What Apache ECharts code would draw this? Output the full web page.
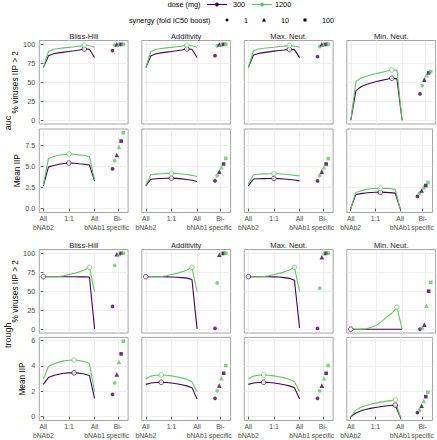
<!DOCTYPE html>
<html><head><meta charset="utf-8">
<script src="https://cdn.jsdelivr.net/npm/echarts@6/dist/echarts.min.js"></script>
<style>html,body{margin:0;padding:0;background:#fff}#c{width:437px;height:440px}</style>
</head><body><div id="c"></div>
<script>
// ---------- categories / axes ----------
const methods = ['Bliss-Hill', 'Additivity', 'Max. Neut.', 'Min. Neut.'];
const metrics = ['auc', 'trough'];
const doses = ['300', '1200'];
const synergyLevels = ['1', '10', '100'];
const ratioX = [0, 0.1, 0.2, 0.3, 0.4, 0.5, 0.6, 0.7, 0.8, 0.9, 1];
const xBreaks = [0, 0.5, 1, 1.455];
const xTickLabels = ['All\nbNAb2', '1:1', 'All\nbNAb1', 'Bi-\nspecific'];
const bispecificX = [1.35, 1.392, 1.434, 1.476, 1.518, 1.56]; // dodged: (syn1: 300,1200), (syn10: 300,1200), (syn100: 300,1200)
const pctTicks = [0, 25, 50, 75, 100];
const aucMeanTicks = [0, 2.5, 5, 7.5];
const troughMeanTicks = [0, 2, 4, 6];

// ---------- AUC: % viruses IIP > 2 (per method) ----------
const aucPct300 = [
  [69.3, 85, 87.5, 88.7, 89.7, 90.6, 91.5, 92.5, 93.8, 93.4, 82.5],
  [69.3, 85, 87.5, 88.7, 89.7, 90.6, 91.5, 92.5, 93.8, 93.4, 82.5],
  [69.3, 86, 88, 89, 90, 91, 91.8, 92.5, 93.3, 93, 82.5],
  [0, 39, 44, 47, 49, 51, 52.5, 54, 55.3, 54.5, 0]
];
const aucPct1200 = [
  [69.3, 90.5, 93.5, 94.5, 95.3, 96, 96.8, 97.6, 98.8, 98, 96],
  [69.3, 90.5, 93.5, 94.5, 95.3, 96, 96.8, 97.6, 98.8, 98, 96],
  [69.3, 91.5, 93.8, 94.8, 95.5, 96.2, 97, 97.6, 98.3, 97.8, 96],
  [0, 51, 55.5, 58, 60, 61.5, 63, 64.5, 66.2, 66, 0]
];
const aucPctBispecific = [
  [91.7, 99, 100, 100, 100, 100],
  [85, 98, 100, 100, 100, 100],
  [83.8, 97, 100, 100, 100, 100],
  [34.6, 45.6, 53.5, 59.2, 62.3, 64]
];
const aucPctOpt300 = [8, 8, 8, 8];
const aucPctOpt1200 = [8, 8, 8, 8];

// ---------- AUC: Mean IIP ----------
const aucMean300 = [
  [2.7, 4.9, 5.1, 5.25, 5.33, 5.38, 5.36, 5.3, 5.25, 5.15, 3.25],
  [2.73, 3.48, 3.53, 3.57, 3.59, 3.6, 3.58, 3.52, 3.45, 3.35, 3.2],
  [2.7, 3.5, 3.53, 3.55, 3.56, 3.57, 3.55, 3.5, 3.45, 3.38, 3.28],
  [0, 1.64, 1.78, 1.86, 1.91, 1.94, 1.95, 1.93, 1.9, 1.84, 0]
];
const aucMean1200 = [
  [2.75, 5.9, 6.15, 6.3, 6.4, 6.45, 6.42, 6.35, 6.3, 6.15, 3.4],
  [2.8, 4.0, 4.08, 4.13, 4.16, 4.18, 4.16, 4.1, 4.03, 3.93, 3.8],
  [2.9, 4.0, 4.07, 4.11, 4.13, 4.14, 4.12, 4.07, 4.0, 3.93, 3.87],
  [0, 1.9, 2.1, 2.25, 2.35, 2.4, 2.42, 2.4, 2.37, 2.3, 0]
];
const aucMeanBispecific = [
  [4.69, 5.66, 6.33, 7.27, 7.97, 8.95],
  [3.28, 3.9, 4.37, 4.88, 5.27, 5.94],
  [3.28, 3.9, 4.37, 4.88, 5.27, 5.9],
  [1.45, 1.84, 2.15, 2.54, 2.73, 3.1]
];
const aucMeanOpt300 = [5, 5, 5, 6];
const aucMeanOpt1200 = [5, 5, 5, 6];

// ---------- Trough: % viruses IIP > 2 ----------
const troughPct300 = [
  [69.2, 69.2, 69.2, 69.2, 69.2, 69.2, 69.1, 69, 69, 68.8, 0.5],
  [69.2, 69.2, 69.2, 69.2, 69, 68.8, 68.5, 68, 67.3, 65.5, 0.5],
  [69.2, 69.2, 69.2, 69.2, 69.1, 69, 68.7, 68, 67, 64.5, 1.5],
  [0, 0, 0, 0, 0, 0, 0, 0, 0, 0, 0]
];
const troughPct1200 = [
  [69.2, 69.2, 69.2, 69.5, 70.5, 72, 73.5, 75.5, 78, 81.5, 49.5],
  [69.2, 69.2, 69.2, 69.5, 70.5, 72, 73.5, 75.5, 78, 81.5, 49.5],
  [69.2, 69.2, 69.2, 69.5, 70.5, 72, 73.5, 75.5, 78, 81.5, 49.5],
  [0, 0, 0, 0.5, 2.5, 5, 10, 16, 21, 29, 0]
];
const troughPctBispecific = [
  [30, 84, 98.7, 99, 100, 100],
  [1, 61, 98, 100, 100, 100],
  [1, 54, 94.7, 100, 100, 100],
  [0, 1, 6, 31, 50, 61.7]
];
const troughPctOpt300 = [0, 0, 0, 0];
const troughPctOpt1200 = [9, 9, 9, 9];

// ---------- Trough: Mean IIP ----------
const troughMean300 = [
  [2.55, 3.08, 3.25, 3.35, 3.42, 3.45, 3.46, 3.43, 3.37, 3.24, 1.45],
  [2.55, 2.66, 2.7, 2.71, 2.69, 2.65, 2.6, 2.52, 2.43, 2.29, 1.4],
  [2.55, 2.66, 2.7, 2.71, 2.69, 2.65, 2.6, 2.52, 2.43, 2.29, 1.4],
  [0, 0.28, 0.45, 0.57, 0.66, 0.73, 0.79, 0.84, 0.88, 0.92, 0]
];
const troughMean1200 = [
  [2.97, 3.95, 4.15, 4.3, 4.4, 4.45, 4.47, 4.43, 4.35, 4.2, 1.97],
  [2.97, 3.2, 3.27, 3.29, 3.27, 3.22, 3.15, 3.06, 2.95, 2.76, 1.97],
  [2.97, 3.2, 3.27, 3.29, 3.27, 3.22, 3.15, 3.06, 2.95, 2.76, 1.97],
  [0, 0.5, 0.72, 0.87, 0.98, 1.07, 1.15, 1.21, 1.27, 1.32, 0]
];
const troughMeanBispecific = [
  [1.76, 2.66, 3.32, 4.32, 4.95, 5.95],
  [1.45, 2.03, 2.45, 3.03, 3.42, 4.03],
  [1.45, 2.03, 2.45, 3.03, 3.42, 4.03],
  [0.32, 0.53, 0.87, 1.24, 1.58, 1.92]
];
const troughMeanOpt300 = [6, 3, 3, 9];
const troughMeanOpt1200 = [6, 3, 3, 9];

// ---------- assembly ----------
const FONT = 'Liberation Sans, Arial, Helvetica, sans-serif';
const PURPLE = '#440154', GREEN = '#5ec962';
const rowsDef = [
  {d300: aucPct300, d1200: aucPct1200, bis: aucPctBispecific, o300: aucPctOpt300, o1200: aucPctOpt1200,
   ticks: pctTicks, min: -5, max: 105, name: '% viruses IIP > 2', fmt: v => String(v), bottom: false, strip: true},
  {d300: aucMean300, d1200: aucMean1200, bis: aucMeanBispecific, o300: aucMeanOpt300, o1200: aucMeanOpt1200,
   ticks: aucMeanTicks, min: -0.447, max: 9.397, name: 'Mean IIP', fmt: v => v.toFixed(1), bottom: true, strip: false},
  {d300: troughPct300, d1200: troughPct1200, bis: troughPctBispecific, o300: troughPctOpt300, o1200: troughPctOpt1200,
   ticks: pctTicks, min: -5, max: 105, name: '% viruses IIP > 2', fmt: v => String(v), bottom: false, strip: true},
  {d300: troughMean300, d1200: troughMean1200, bis: troughMeanBispecific, o300: troughMeanOpt300, o1200: troughMeanOpt1200,
   ticks: troughMeanTicks, min: -0.2975, max: 6.2475, name: 'Mean IIP', fmt: v => String(v), bottom: true, strip: false}
];
const gridLefts = [39.3, 141.8, 244.3, 346.8];
const gridTops = [40.5, 129, 249.5, 337.4];
const GW = 88.8, GH = 83.5;
const synSymbols = ['circle', 'triangle', 'rect'];
const synSizes = [3.8, 4.6, 3.6];

const grids = [], xAxes = [], yAxes = [], series = [], graphics = [];
const labelOf = v => { let b = 0; xBreaks.forEach((x, i) => { if (Math.abs(x - v) < Math.abs(xBreaks[b] - v)) b = i; }); return xTickLabels[b]; };

rowsDef.forEach((R, r) => {
  methods.forEach((m, c) => {
    const idx = grids.length;
    grids.push({left: gridLefts[c], top: gridTops[r], width: GW, height: GH, show: true,
      borderColor: '#a3a3a3', borderWidth: 1, backgroundColor: 'transparent'});
    xAxes.push({type: 'value', gridIndex: idx, min: -0.078, max: 1.654,
      axisLine: {show: false},
      axisTick: {show: R.bottom, customValues: xBreaks, length: 2.5, lineStyle: {color: '#333', width: 0.8}},
      axisLabel: {show: R.bottom, customValues: xBreaks, formatter: labelOf, margin: 1.5,
        showMinLabel: true, showMaxLabel: true, hideOverlap: false,
        fontSize: 6.8, lineHeight: 9, color: '#4d4d4d', fontFamily: FONT, align: 'center'},
      splitLine: {show: true, lineStyle: {color: '#ebebeb', width: 0.8}}});
    yAxes.push({type: 'value', gridIndex: idx, min: R.min, max: R.max,
      name: c === 0 ? R.name : '', nameLocation: 'middle', nameGap: 13,
      nameTextStyle: {fontSize: 8.3, color: '#000', fontFamily: FONT},
      axisLine: {show: false},
      axisTick: {show: c === 0, customValues: R.ticks, length: 2.5, lineStyle: {color: '#333', width: 0.8}},
      axisLabel: {show: c === 0, customValues: R.ticks, formatter: R.fmt, margin: 4,
        showMinLabel: true, showMaxLabel: true,
        fontSize: 7.3, color: '#4d4d4d', fontFamily: FONT},
      splitLine: {show: true, lineStyle: {color: '#ebebeb', width: 0.8}}});
    [[R.d300, R.o300, PURPLE, doses[0]], [R.d1200, R.o1200, GREEN, doses[1]]].forEach(([D, O, col, nm]) => {
      series.push({type: 'line', name: nm, xAxisIndex: idx, yAxisIndex: idx, symbol: 'none',
        data: ratioX.map((x, k) => [x, D[c][k]]), lineStyle: {color: col, width: 1.1}, itemStyle: {color: col},
        z: 3, silent: true});
    });
    series.push({type: 'scatter', xAxisIndex: idx, yAxisIndex: idx, z: 5, silent: true,
      symbol: 'circle', symbolSize: 4.6,
      data: [
        {value: [ratioX[R.o300[c]], R.d300[c][R.o300[c]]], itemStyle: {color: '#fff', borderColor: PURPLE, borderWidth: 0.9}},
        {value: [ratioX[R.o1200[c]], R.d1200[c][R.o1200[c]]], itemStyle: {color: '#fff', borderColor: GREEN, borderWidth: 0.9}}
      ]});
    series.push({type: 'scatter', xAxisIndex: idx, yAxisIndex: idx, z: 4, silent: true,
      data: R.bis[c].map((v, j) => ({value: [bispecificX[j], v],
        symbol: synSymbols[j >> 1], symbolSize: synSizes[j >> 1],
        itemStyle: {color: j % 2 ? GREEN : PURPLE}}))});
    if (R.strip) {
      graphics.push({type: 'text', x: gridLefts[c] + GW / 2, y: gridTops[r] - 4.3, silent: true,
        style: {text: m, align: 'center', verticalAlign: 'middle', fontSize: 7.6, fill: '#1a1a1a', fontFamily: FONT}});
    }
  });
});

// row (metric) labels: names of invisible axes spanning each pair of rows
const rowLabelSpan = [[40.5, 165], [249.5, 171.5]];
metrics.forEach((t, i) => {
  const idx = grids.length;
  grids.push({left: gridLefts[0], top: rowLabelSpan[i][0], width: GW, height: rowLabelSpan[i][1], show: false});
  xAxes.push({type: 'value', gridIndex: idx, show: false});
  yAxes.push({type: 'value', gridIndex: idx, show: true, name: t, nameLocation: 'middle', nameGap: 27,
    nameTextStyle: {fontSize: 9, color: '#1a1a1a', fontFamily: FONT},
    axisLine: {show: false}, axisTick: {show: false}, axisLabel: {show: false}, splitLine: {show: false}});
});

// legends
const LT = {fontSize: 7.3, fill: '#000', fontFamily: FONT, verticalAlign: 'middle'};
const y1 = 4.5, y2 = 20;
graphics.push({type: 'text', x: 200.5, y: y1, silent: true, style: Object.assign({text: 'dose (mg)', align: 'right'}, LT)});
[[PURPLE, 207, doses[0], 233], [GREEN, 252, doses[1], 275]].forEach(([col, x0, t, tx]) => {
  graphics.push({type: 'line', silent: true, shape: {x1: x0, y1: y1, x2: x0 + 20, y2: y1}, style: {stroke: col, lineWidth: 1.1}});
  graphics.push({type: 'circle', silent: true, shape: {cx: x0 + 10, cy: y1, r: 1.9}, style: {fill: col}});
  graphics.push({type: 'text', x: tx, y: y1, silent: true, style: Object.assign({text: t, align: 'left'}, LT)});
});
graphics.push({type: 'text', x: 210.5, y: y2, silent: true, style: Object.assign({text: 'synergy (fold IC50 boost)', align: 'right'}, LT)});
graphics.push({type: 'circle', silent: true, shape: {cx: 227, cy: y2, r: 1.5}, style: {fill: '#000'}});
graphics.push({type: 'text', x: 244, y: y2, silent: true, style: Object.assign({text: synergyLevels[0], align: 'left'}, LT)});
graphics.push({type: 'polygon', silent: true, shape: {points: [[264, y2 - 1.9], [262, y2 + 1.5], [266, y2 + 1.5]]}, style: {fill: '#000'}});
graphics.push({type: 'text', x: 281, y: y2, silent: true, style: Object.assign({text: synergyLevels[1], align: 'left'}, LT)});
graphics.push({type: 'rect', silent: true, shape: {x: 303.5, y: y2 - 1.5, width: 3, height: 3}, style: {fill: '#000'}});
graphics.push({type: 'text', x: 322, y: y2, silent: true, style: Object.assign({text: synergyLevels[2], align: 'left'}, LT)});

const chart = echarts.init(document.getElementById('c'), null, {renderer: 'svg'});
chart.setOption({
  animation: false,
  backgroundColor: '#fff',
  grid: grids, xAxis: xAxes, yAxis: yAxes, series: series, graphic: graphics
});
</script></body></html>
